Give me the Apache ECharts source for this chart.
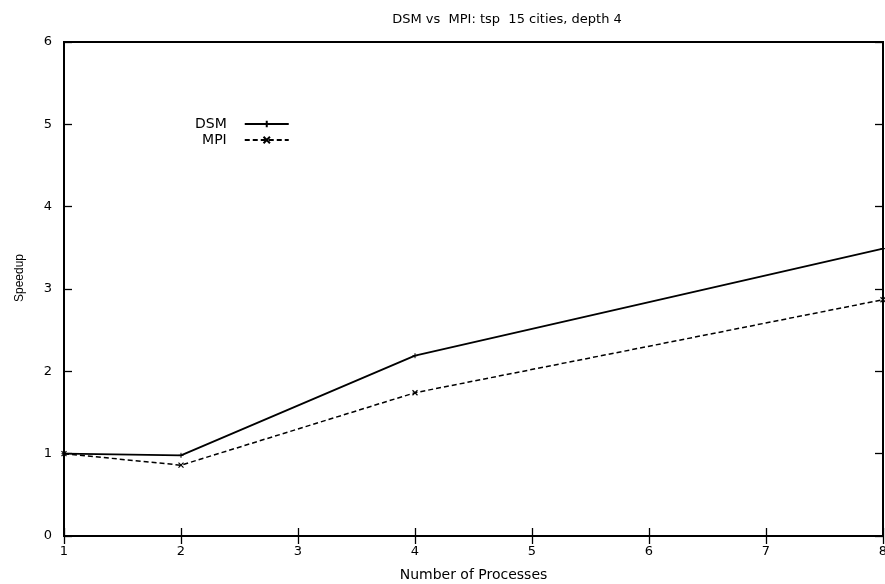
<!DOCTYPE html>
<html>
<head>
<meta charset="utf-8">
<script src="https://cdn.jsdelivr.net/npm/echarts@6/dist/echarts.min.js"></script>
<style>
  html, body { margin: 0; padding: 0; background: #fff; }
  #chart { width: 885px; height: 584px; }
</style>
</head>
<body>
<div id="chart"></div>
<script>
// Speedup measured at each process count
const processes = [1, 2, 4, 8];
const dsmSpeedup = [1.0, 0.98, 2.19, 3.49];
const mpiSpeedup = [1.0, 0.86, 1.74, 2.87];
const xTicks = [1, 2, 3, 4, 5, 6, 7, 8];
const yTicks = [0, 1, 2, 3, 4, 5, 6];

const FONT = '"DejaVu Sans", "Liberation Sans", sans-serif';

const pairs = (xs, ys) => xs.map((x, i) => [x, ys[i]]);

const chart = echarts.init(document.getElementById('chart'), null, { renderer: 'canvas' });

const tickStyle = { show: true, inside: true, length: 8, lineStyle: { color: '#000', width: 1.3 } };

const baseX = {
  type: 'value',
  min: xTicks[0],
  max: xTicks[xTicks.length - 1],
  interval: 1,
  splitLine: { show: false },
  axisLine: { show: false },
  axisTick: tickStyle
};
const baseY = {
  type: 'value',
  min: yTicks[0],
  max: yTicks[yTicks.length - 1],
  interval: 1,
  splitLine: { show: false },
  axisLine: { show: false },
  axisTick: tickStyle
};

chart.setOption({
  animation: false,
  backgroundColor: '#fff',
  title: {
    text: 'DSM vs  MPI: tsp  15 cities, depth 4',
    left: 502,
    textAlign: 'center',
    top: 8,
    textStyle: { fontFamily: FONT, fontSize: 13, fontWeight: 'normal', color: '#000' }
  },
  grid: {
    left: 64, right: 2, top: 42, bottom: 48,
    outerBoundsMode: 'none',
    containLabel: false,
    show: true, borderColor: '#000', borderWidth: 2, backgroundColor: 'transparent'
  },
  legend: {
    orient: 'vertical',
    left: 190,
    top: 112,
    align: 'right',
    itemWidth: 44,
    itemHeight: 8,
    itemGap: 2,
    textStyle: { fontFamily: FONT, fontSize: 14, color: '#000', padding: [0, 13, 0, 0] },
    data: ['DSM', 'MPI']
  },
  graphic: [
    {
      type: 'text',
      x: 20,
      y: 278,
      rotation: Math.PI / 2,
      style: {
        text: 'Speedup',
        fontFamily: '"Liberation Sans", sans-serif',
        fontSize: 12,
        fill: '#000',
        align: 'center',
        verticalAlign: 'middle'
      }
    }
  ],
  xAxis: [
    Object.assign({}, baseX, {
      name: 'Number of Processes',
      nameLocation: 'middle',
      nameGap: 32,
      nameTextStyle: { fontFamily: FONT, fontSize: 14, color: '#000' },
      axisLabel: { fontFamily: FONT, fontSize: 13, color: '#000', margin: 9 }
    }),
    Object.assign({}, baseX, { position: 'top', axisLabel: { show: false } })
  ],
  yAxis: [
    Object.assign({}, baseY, {
      axisLabel: { fontFamily: FONT, fontSize: 13, color: '#000', margin: 12 }
    }),
    Object.assign({}, baseY, { position: 'right', axisLabel: { show: false } })
  ],
  series: [
    {
      name: 'DSM',
      type: 'line',
      data: pairs(processes, dsmSpeedup),
      symbol: 'path://M0,-5L0,5M-5,0L5,0',
      symbolSize: 5,
      itemStyle: { color: '#000', borderColor: '#000', borderWidth: 1 },
      lineStyle: { color: '#000', width: 1.8, type: 'solid' },
      z: 3
    },
    {
      name: 'MPI',
      type: 'line',
      data: pairs(processes, mpiSpeedup),
      symbol: 'path://M-5,-5L5,5M-5,5L5,-5',
      symbolSize: 5,
      itemStyle: { color: '#000', borderColor: '#000', borderWidth: 1.2 },
      lineStyle: { color: '#000', width: 1.5, type: [5, 3] },
      z: 2
    }
  ]
});
</script>
</body>
</html>
